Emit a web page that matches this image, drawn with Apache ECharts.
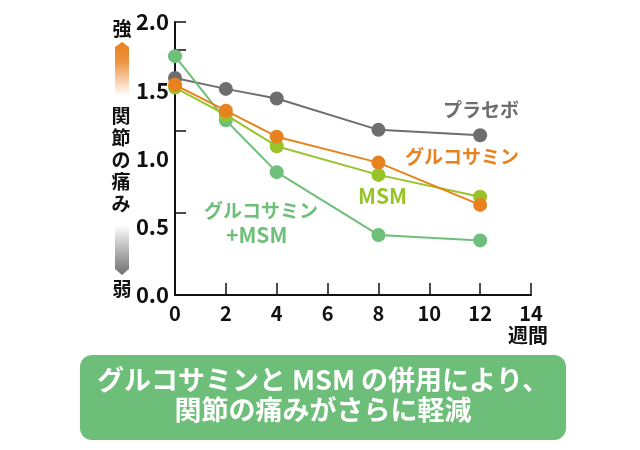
<!DOCTYPE html>
<html><head><meta charset="utf-8">
<script src="https://cdn.jsdelivr.net/npm/echarts@6/dist/echarts.min.js"></script>
<style>html,body{margin:0;padding:0;background:#fff}#c{width:640px;height:450px}</style>
</head><body><div id="c"></div>
<script>
const weeks = [0, 2, 4, 8, 12];
const xTicks = [0, 2, 4, 6, 8, 10, 12, 14];
const yTicks = [0.0, 0.5, 1.0, 1.5, 2.0];
const placebo = [1.59, 1.51, 1.44, 1.21, 1.17];
const glucosamine = [1.54, 1.35, 1.16, 0.97, 0.66];
const msm = [1.52, 1.32, 1.09, 0.88, 0.72];
const glucoMsm = [1.75, 1.28, 0.90, 0.44, 0.40];
const seriesNames = ['プラセボ', 'グルコサミン', 'MSM', 'グルコサミン+MSM'];
const colors = ['#6e6e6e', '#e8821e', '#98c42a', '#6dbf79'];
const FONT = '"Noto Sans CJK JP", "Noto Sans", sans-serif';

const chart = echarts.init(document.getElementById('c'), null, {renderer: 'canvas'});
function mk(name, data, color, z) {
  return {
    name, type: 'line', z,
    data: weeks.map((w, i) => [w, data[i]]),
    symbol: 'circle', symbolSize: 14,
    lineStyle: {color, width: 2},
    itemStyle: {color},
    emphasis: {disabled: true}
  };
}
chart.setOption({
  animation: false,
  textStyle: {fontFamily: FONT},
  grid: {left: 175, right: 109, top: 22, bottom: 155},
  xAxis: {
    type: 'value', min: 0, max: 14, interval: 2,
    axisLine: {show: true, lineStyle: {color: '#111', width: 2}},
    axisTick: {show: true, inside: true, length: 12, lineStyle: {color: '#111', width: 1.5}},
    axisLabel: {color: '#111', fontSize: 20, fontWeight: 'bold', margin: 8, fontFamily: FONT},
    splitLine: {show: false}
  },
  yAxis: [{
    type: 'value', min: 0, max: 2, interval: 0.5,
    axisLine: {show: true, lineStyle: {color: '#111', width: 2}},
    axisTick: {show: false},
    axisLabel: {color: '#111', fontSize: 22, fontWeight: 'bold', margin: 6, fontFamily: FONT,
      formatter: v => v.toFixed(1)},
    splitLine: {show: false}
  }, {
    type: 'value', min: 0, max: 2, interval: 0.6, position: 'left',
    axisLine: {show: false},
    axisTick: {show: true, inside: true, length: 11, lineStyle: {color: '#111', width: 1.5}},
    axisLabel: {show: false},
    splitLine: {show: false}
  }],
  series: [
    mk(seriesNames[0], placebo, colors[0], 2),
    mk(seriesNames[3], glucoMsm, colors[3], 3),
    mk(seriesNames[2], msm, colors[2], 4),
    mk(seriesNames[1], glucosamine, colors[1], 5)
  ],
  graphic: [
    {type: 'text', left: 443, top: 100, style: {text: 'プラセボ', fill: colors[0], font: 'bold 19px ' + FONT}},
    {type: 'text', left: 405, top: 147, style: {text: 'グルコサミン', fill: colors[1], font: 'bold 19px ' + FONT}},
    {type: 'text', left: 358, top: 186, style: {text: 'MSM', fill: colors[2], font: 'bold 21px ' + FONT}},
    {type: 'text', left: 204, top: 201, style: {text: 'グルコサミン', fill: colors[3], font: 'bold 19px ' + FONT}},
    {type: 'text', left: 226, top: 225, style: {text: '+MSM', fill: colors[3], font: 'bold 21px ' + FONT}},
    {type: 'text', left: 508, top: 325, style: {text: '週間', fill: '#111', font: 'bold 20px ' + FONT}},
    {type: 'text', x: 122, y: 29, style: {text: '強', fill: '#111', font: 'bold 19px ' + FONT, align: 'center', verticalAlign: 'middle'}},
    {type: 'text', x: 122, y: 289, style: {text: '弱', fill: '#111', font: 'bold 19px ' + FONT, align: 'center', verticalAlign: 'middle'}},
    {type: 'text', x: 121, y: 160, style: {text: '関\n節\nの\n痛\nみ', fill: '#111', font: 'bold 19px ' + FONT, lineHeight: 22, align: 'center', verticalAlign: 'middle'}},
    {type: 'polygon', shape: {points: [[115, 47], [122, 42], [129, 47], [129, 96], [115, 96]]},
      style: {fill: new echarts.graphic.LinearGradient(0, 0, 0, 1, [
        {offset: 0, color: '#e8821e'}, {offset: 0.35, color: '#ec9240'}, {offset: 1, color: 'rgba(255,255,255,1)'}])}},
    {type: 'polygon', shape: {points: [[115, 225], [129, 225], [129, 269], [122, 275], [115, 269]]},
      style: {fill: new echarts.graphic.LinearGradient(0, 0, 0, 1, [
        {offset: 0, color: 'rgba(255,255,255,1)'}, {offset: 0.65, color: '#a0a0a0'}, {offset: 1, color: '#707070'}])}},
    {type: 'rect', shape: {x: 80, y: 355, width: 486, height: 85, r: 12}, style: {fill: '#6cbe78'}},
    {type: 'text', x: 323, y: 380, style: {text: 'グルコサミンと MSM の併用により、', fill: '#fff', font: 'bold 27px ' + FONT, align: 'center', verticalAlign: 'middle'}},
    {type: 'text', x: 323, y: 410, style: {text: '関節の痛みがさらに軽減', fill: '#fff', font: 'bold 27px ' + FONT, align: 'center', verticalAlign: 'middle'}}
  ]
});
</script></body></html>
